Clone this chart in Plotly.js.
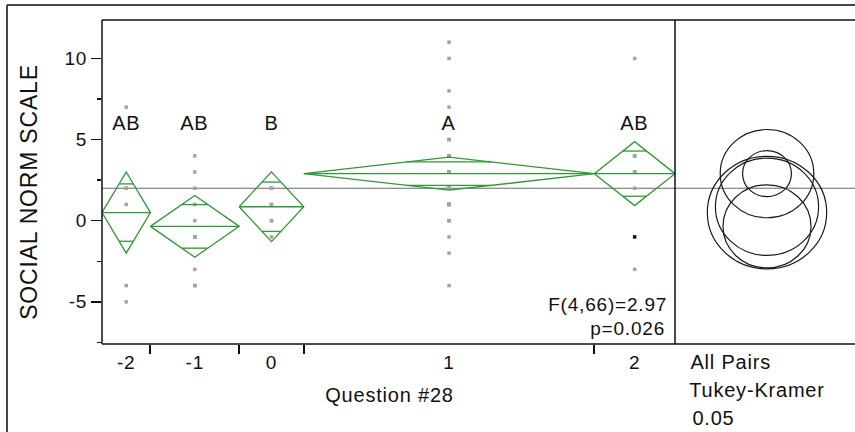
<!DOCTYPE html>
<html><head><meta charset="utf-8">
<script src="https://cdn.plot.ly/plotly-3.0.1.min.js"></script>
<style>html,body{margin:0;padding:0;background:#fff;} #chart{width:855px;height:432px;} #chart text{letter-spacing:0.8px;}</style>
</head><body><div id="chart"></div>
<script>
// ---- data ----
const groupLabels = ['-2', '-1', '0', '1', '2'];
const groupN = [6, 11, 8, 36, 10];
const groupMeans = [0.5, -0.35, 0.86, 2.9, 2.9];
const ciHalfWidths = [2.5, 1.9, 2.15, 1.02, 1.97];
const circleRadii = [3.47, 2.56, 3.0, 1.42, 2.72];
const connectLetters = ['AB', 'AB', 'B', 'A', 'AB'];
const letterY = 6.0;
const grandMean = 2.0;
const ptsM2 = [7, 2, 2, 1, -4, -5];
const ptsM1 = [4, 3, 2, 1, 0, -1, -1, -1, -3, -4, -4];
const pts0 = [2, 2, 2, 1, 1, 0, 0, -1];
const pts1 = [11, 10, 8, 7, 5, 5, 4, 4, 4, 4, 4, 3, 3, 3, 3, 3, 3, 3, 3, 3, 2, 2, 2, 2, 2, 2, 1, 1, 1, 1, 1, 0, 0, -1, -2, -4];
const pts2 = [10, 4, 4, 4, 3, 3, 3, 2, -1, -3];
const groupPoints = [ptsM2, ptsM1, pts0, pts1, pts2];
const darkDot = {group: 4, value: -1};
const yTickVals = [-5, 0, 5, 10];
const yTickText = ['-5', '0', '5', '10'];
const fText = 'F(4,66)=2.97';
const pText = 'p=0.026';
const xTitle = 'Question #28';
const yTitle = 'SOCIAL NORM SCALE';
const compLabel = ['All Pairs', 'Tukey-Kramer', '0.05'];

// ---- layout geometry ----
const W = 855, H = 432;
const L = 102, R = 855, T = 20, B = 344;
const mainRight = 675;
const split = (mainRight - L) / (R - L);
const yRange = [-7.6, 12.37];
const pxY = (B - T) / (yRange[1] - yRange[0]);
const pxX2 = pxY * 1.06;
const circCx = 767;
const x2Range = [-(circCx - mainRight) / pxX2, (R - circCx) / pxX2];
const px2paperX = p => (p - L) / (R - L);
const px2paperY = p => (B - p) / (B - T);

const FONT = 'Liberation Sans, Arial, sans-serif';
const GREEN = '#2f9a35';
const INK = '#111';

// group extents from sample sizes
const starts = [], ends = [], centers = [];
let acc = 0;
groupN.forEach(n => { starts.push(acc); acc += n; ends.push(acc); centers.push(acc - n / 2); });
const total = acc;

// diamonds
const dx = [], dy = [];
groupMeans.forEach((m, i) => {
  const s = starts[i], e = ends[i], c = centers[i], ci = ciHalfWidths[i];
  dx.push(s, c, e, c, s, null); dy.push(m, m + ci, m, m - ci, m, null);
  dx.push(s, e, null); dy.push(m, m, null);
  const h = ci / Math.SQRT2, hl = (1 - 1 / Math.SQRT2) * (e - s) / 2;
  dx.push(c - hl, c + hl, null); dy.push(m + h, m + h, null);
  dx.push(c - hl, c + hl, null); dy.push(m - h, m - h, null);
});

// points
const px = [], py = [], pc = [];
groupPoints.forEach((arr, i) => arr.forEach(v => {
  px.push(centers[i]); py.push(v);
  pc.push(i === darkDot.group && v === darkDot.value ? '#111' : '#a3a3a3');
}));

const traces = [
  {x: px, y: py, type: 'scatter', mode: 'markers', xaxis: 'x', yaxis: 'y',
   marker: {symbol: 'square', size: 3.5, color: pc, line: {width: 0}}, hoverinfo: 'y', showlegend: false},
  {x: dx, y: dy, type: 'scatter', mode: 'lines', xaxis: 'x', yaxis: 'y',
   line: {color: GREEN, width: 1.3}, hoverinfo: 'skip', showlegend: false},
  {x: [0], y: [0], type: 'scatter', mode: 'markers', xaxis: 'x3', yaxis: 'y',
   marker: {opacity: 0}, hoverinfo: 'skip', showlegend: false},
  {x: [0], y: [0], type: 'scatter', mode: 'markers', xaxis: 'x2', yaxis: 'y',
   marker: {opacity: 0}, hoverinfo: 'skip', showlegend: false}
];

const shapes = [];
const frame = {color: '#111', width: 1.5};
shapes.push({type: 'line', xref: 'paper', yref: 'paper', x0: 0, x1: 1, y0: 1, y1: 1, line: frame});
shapes.push({type: 'line', xref: 'paper', yref: 'paper', x0: 0, x1: 1, y0: 0, y1: 0, line: frame});
shapes.push({type: 'line', xref: 'paper', yref: 'paper', x0: 0, x1: 0, y0: 0, y1: 1, line: frame});
shapes.push({type: 'line', xref: 'paper', yref: 'paper', x0: split, x1: split, y0: 0, y1: 1, line: frame});
// grand mean
shapes.push({type: 'line', xref: 'paper', yref: 'y', x0: 0, x1: 1, y0: grandMean, y1: grandMean,
  line: {color: '#6a6a6a', width: 1.2}, layer: 'below'});
// outer frame
const outer = {color: '#444', width: 2};
shapes.push({type: 'line', xref: 'paper', yref: 'paper', x0: px2paperX(7), x1: px2paperX(860), y0: px2paperY(5), y1: px2paperY(5), line: outer});
shapes.push({type: 'line', xref: 'paper', yref: 'paper', x0: px2paperX(7), x1: px2paperX(7), y0: px2paperY(5), y1: px2paperY(440), line: outer});
// comparison circles
groupMeans.forEach((m, i) => {
  const r = circleRadii[i];
  shapes.push({type: 'circle', xref: 'x2', yref: 'y', x0: -r, x1: r, y0: m - r, y1: m + r,
    line: {color: '#1a1a1a', width: 1.2}});
});

const annotations = [];
connectLetters.forEach((t, i) => annotations.push({x: centers[i], y: letterY, xref: 'x', yref: 'y', text: t,
  showarrow: false, font: {family: FONT, size: 20, color: INK}, xanchor: 'center', yanchor: 'middle'}));
annotations.push({x: px2paperX(664), y: px2paperY(304), xref: 'paper', yref: 'paper', text: fText, showarrow: false,
  xanchor: 'right', yanchor: 'middle', font: {family: FONT, size: 19, color: INK}});
annotations.push({x: px2paperX(664), y: px2paperY(328), xref: 'paper', yref: 'paper', text: pText, showarrow: false,
  xanchor: 'right', yanchor: 'middle', font: {family: FONT, size: 19, color: INK}});
annotations.push({x: px2paperX(389), y: px2paperY(395), xref: 'paper', yref: 'paper', text: xTitle, showarrow: false,
  xanchor: 'center', yanchor: 'middle', font: {family: FONT, size: 20, color: INK}});
annotations.push({x: px2paperX(29), y: px2paperY(192), xref: 'paper', yref: 'paper', text: yTitle, showarrow: false,
  textangle: -90, xanchor: 'center', yanchor: 'middle', font: {family: FONT, size: 23, color: INK}});
compLabel.forEach((t, i) => annotations.push({x: px2paperX(692), y: px2paperY(362 + 28 * i), xref: 'paper', yref: 'paper',
  text: t, showarrow: false, xanchor: 'left', yanchor: 'middle', font: {family: FONT, size: 20, color: INK}}));

const layout = {
  width: W, height: H,
  margin: {l: L, r: W - R, t: T, b: H - B, pad: 0},
  paper_bgcolor: '#fff', plot_bgcolor: '#fff',
  showlegend: false,
  font: {family: FONT, color: INK},
  xaxis: {domain: [0, split], range: [0, total], tickmode: 'array', tickvals: centers, ticktext: groupLabels,
    ticks: 'outside', ticklen: 1, tickcolor: 'rgba(0,0,0,0)', showgrid: false, zeroline: false, showline: false,
    tickfont: {family: FONT, size: 19, color: INK}, fixedrange: true},
  xaxis3: {overlaying: 'x', domain: [0, split], range: [0, total], anchor: 'y', tickmode: 'array',
    tickvals: starts.slice(1), ticks: 'outside', ticklen: 9, tickwidth: 2, tickcolor: '#111',
    showticklabels: false, showgrid: false, zeroline: false, showline: false, fixedrange: true},
  xaxis2: {domain: [split, 1], range: x2Range, anchor: 'y', visible: false, fixedrange: true},
  yaxis: {range: yRange, tickmode: 'array', tickvals: yTickVals, ticktext: yTickText, ticks: 'outside', ticklen: 10, tickwidth: 1.5,
    tickcolor: '#111', showgrid: false, zeroline: false, showline: false,
    minor: {tick0: 0, dtick: 2.5, ticks: 'outside', ticklen: 4, tickwidth: 1.5, tickcolor: '#111', showgrid: false},
    tickfont: {family: FONT, size: 19, color: INK}, fixedrange: true},
  shapes: shapes,
  annotations: annotations
};

Plotly.newPlot('chart', traces, layout, {displayModeBar: false, staticPlot: true});
</script>
</body></html>
